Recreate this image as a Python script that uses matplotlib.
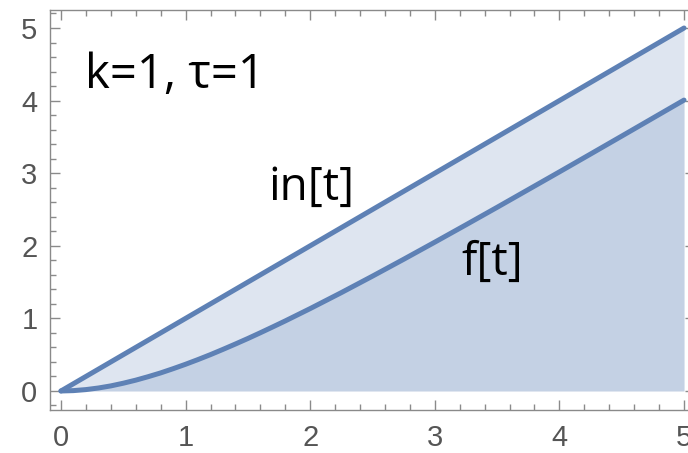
import matplotlib
matplotlib.use("Agg")
import matplotlib.pyplot as plt
from matplotlib.ticker import MultipleLocator

# response of the first-order system (k=1, tau=1) to a ramp input
t = [0, 0.1, 0.2, 0.3, 0.4, 0.5, 0.6, 0.7, 0.8, 0.9, 1.0, 1.1, 1.2, 1.3,
     1.4, 1.5, 1.6, 1.7, 1.8, 1.9, 2.0, 2.25, 2.5, 2.75, 3.0, 3.25, 3.5,
     3.75, 4.0, 4.25, 4.5, 4.75, 5.0]
in_t = [0, 0.1, 0.2, 0.3, 0.4, 0.5, 0.6, 0.7, 0.8, 0.9, 1.0, 1.1, 1.2, 1.3,
        1.4, 1.5, 1.6, 1.7, 1.8, 1.9, 2.0, 2.25, 2.5, 2.75, 3.0, 3.25, 3.5,
        3.75, 4.0, 4.25, 4.5, 4.75, 5.0]
f_t = [0, 0.005, 0.019, 0.041, 0.070, 0.107, 0.149, 0.197, 0.249, 0.307,
       0.368, 0.433, 0.501, 0.573, 0.647, 0.723, 0.802, 0.883, 0.965,
       1.050, 1.135, 1.355, 1.582, 1.814, 2.050, 2.289, 2.530, 2.774,
       3.018, 3.264, 3.511, 3.759, 4.007]
x_ticks = [0, 1, 2, 3, 4, 5]
y_ticks = [0, 1, 2, 3, 4, 5]

LINE = "#5E81B5"
FRAME = "#8a8a8a"

fig = plt.figure(figsize=(6.88, 4.53), dpi=100)
W, H = 688, 453
# frame runs past the right edge of the image
ax = fig.add_axes([50 / W, 43 / H, 645 / W, 400 / H])

ax.fill_between(t, in_t, 0, color=LINE, alpha=0.2, lw=0)
ax.fill_between(t, f_t, 0, color=LINE, alpha=0.2, lw=0)
ax.plot(t, in_t, color=LINE, lw=3.6, solid_capstyle="round")
ax.plot(t, f_t, color=LINE, lw=3.6, solid_capstyle="round")

ax.set_xlim(-0.088, 5.088)
ax.set_ylim(-0.262, 5.248)
ax.set_xticks(x_ticks)
ax.set_yticks(y_ticks)
ax.xaxis.set_minor_locator(MultipleLocator(0.2))
ax.yaxis.set_minor_locator(MultipleLocator(0.2))

for s in ax.spines.values():
    s.set_color(FRAME)
    s.set_linewidth(1.0)

ax.tick_params(which="both", direction="in", top=True, right=True, color=FRAME, width=1.0)
ax.tick_params(which="major", length=7)
ax.tick_params(which="minor", length=4)
ax.tick_params(axis="y", pad=9, labelsize=21, labelcolor="#555555")
ax.tick_params(axis="x", pad=10, labelsize=21, labelcolor="#555555")
for lab in ax.get_xticklabels() + ax.get_yticklabels():
    lab.set_family("Liberation Sans")

txt = dict(family=["Open Sans", "DejaVu Sans"], color="black")
ax.text(0.193, 4.17, "k=1, \u03c4=1", ha="left", va="baseline", fontsize=34, **txt)
ax.text(2.01, 2.80, "in[t]", ha="center", va="center", fontsize=33, **txt)
ax.text(3.46, 1.76, "f[t]", ha="center", va="center", fontsize=33, **txt)

fig.savefig("out.png", dpi=100)
